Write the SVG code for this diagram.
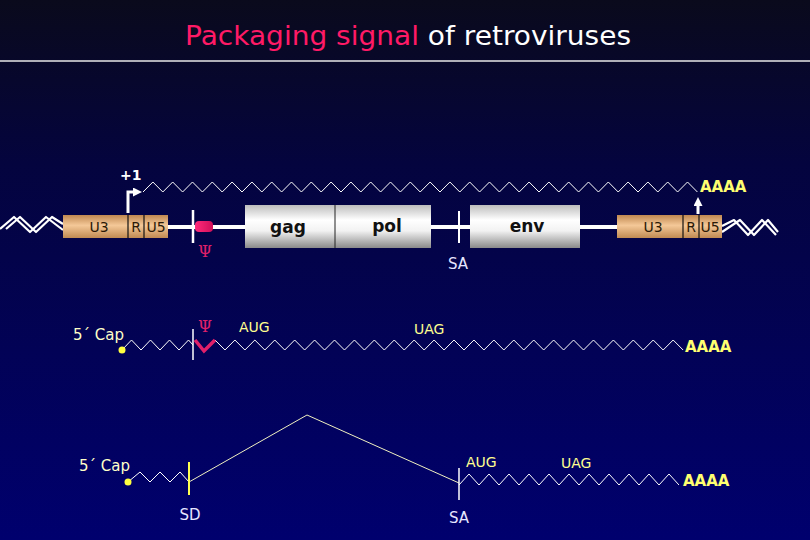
<svg xmlns="http://www.w3.org/2000/svg" width="810" height="540" viewBox="0 0 810 540">
<defs>
<linearGradient id="bg" x1="0" y1="0" x2="0" y2="1">
<stop offset="0" stop-color="#0a0a1c"/>
<stop offset="0.3" stop-color="#04043e"/>
<stop offset="1" stop-color="#00006e"/>
</linearGradient>
<linearGradient id="tan" x1="0" y1="0" x2="0" y2="1">
<stop offset="0" stop-color="#c08850"/>
<stop offset="0.45" stop-color="#f4c898"/>
<stop offset="1" stop-color="#c08a52"/>
</linearGradient>
<linearGradient id="gene" x1="0" y1="0" x2="0" y2="1">
<stop offset="0" stop-color="#bdbdbd"/>
<stop offset="0.35" stop-color="#ffffff"/>
<stop offset="0.6" stop-color="#f2f2f2"/>
<stop offset="1" stop-color="#8a8a8a"/>
</linearGradient>
<linearGradient id="pink" x1="0" y1="0" x2="1" y2="0">
<stop offset="0" stop-color="#ff2a7a"/>
<stop offset="1" stop-color="#d0105a"/>
</linearGradient>
<marker id="ah" markerWidth="9" markerHeight="9" refX="5" refY="4.5" orient="auto" markerUnits="userSpaceOnUse">
<path d="M0,0 L9,4.5 L0,9 z" fill="#ffffff"/>
</marker>
<style>
.lbl{font-family:"DejaVu Sans","Liberation Sans",sans-serif;}
.box{font-family:"DejaVu Sans","Liberation Sans",sans-serif;font-size:14px;fill:#2a1a08;text-anchor:middle;}
.gene{font-family:"DejaVu Sans","Liberation Sans",sans-serif;font-size:17px;font-weight:bold;fill:#111;text-anchor:middle;}
.yel{fill:#ffff70;font-size:15px;font-weight:bold;}
.cod{fill:#ffff90;font-size:14px;}
.cap{fill:#ffffc8;font-size:15px;}
.site{fill:#e6e6ff;font-size:15px;text-anchor:middle;}
.psi{fill:#e0206a;font-size:16px;text-anchor:middle;font-family:"DejaVu Serif",serif;}
.zz{fill:none;stroke:#ffffff;stroke-width:1;}
.dna{fill:none;stroke:#ffffff;stroke-width:4;}
.wave{fill:none;stroke:#ffffff;stroke-width:2.2;stroke-linejoin:round;}
</style>
</defs>
<rect x="0" y="0" width="810" height="540" fill="url(#bg)"/>

<g id="title">
<text x="408" y="45" text-anchor="middle" font-family="DejaVu Sans, Verdana, sans-serif" font-size="26" textLength="446" lengthAdjust="spacingAndGlyphs"><tspan fill="#ff1a66">Packaging signal</tspan><tspan fill="#ffffff"> of retroviruses</tspan></text>
<line x1="0" y1="61" x2="810" y2="61" stroke="#e8e8e8" stroke-width="1.5"/>
</g>

<g id="connectors">
<path class="dna" d="M168,227 H245 M431,227 H470 M580,227 H617"/>
<path class="wave" d="M0,229 L14,217 L30,232 L46,217 L63,230"/>
<path class="wave" d="M6,229 L20,217 L36,232 L52,217 L63,224"/>
<path class="wave" d="M722,226 L734,220 L748,235 L762,220 L776,235"/>
<path class="wave" d="M722,232 L740,220 L754,235 L768,220 L778,232"/>
<path d="M128,213 V192 H138" fill="none" stroke="#fff" stroke-width="3" marker-end="url(#ah)"/>
<path d="M698,214 V201" fill="none" stroke="#fff" stroke-width="3" marker-end="url(#ah)"/>
<path class="zz" d="M143,192 l9.9,-10 l9.9,10 l9.9,-10 l9.9,10 l9.9,-10 l9.9,10 l9.9,-10 l9.9,10 l9.9,-10 l9.9,10 l9.9,-10 l9.9,10 l9.9,-10 l9.9,10 l9.9,-10 l9.9,10 l9.9,-10 l9.9,10 l9.9,-10 l9.9,10 l9.9,-10 l9.9,10 l9.9,-10 l9.9,10 l9.9,-10 l9.9,10 l9.9,-10 l9.9,10 l9.9,-10 l9.9,10 l9.9,-10 l9.9,10 l9.9,-10 l9.9,10 l9.9,-10 l9.9,10 l9.9,-10 l9.9,10 l9.9,-10 l9.9,10 l9.9,-10 l9.9,10 l9.9,-10 l9.9,10 l9.9,-10 l9.9,10 l9.9,-10 l9.9,10 l9.9,-10 l9.9,10 l9.9,-10 l9.9,10 l9.9,-10 l9.9,10 l9.9,-10 l9.9,10"/>
<path class="zz" d="M122,350 L131.5,340 L141,350 L150.5,340 L160,350 L169.5,340 L179,350 L188.5,340 L193,345"/>
<path class="zz" d="M215,340 l9.96,10 l9.96,-10 l9.96,10 l9.96,-10 l9.96,10 l9.96,-10 l9.96,10 l9.96,-10 l9.96,10 l9.96,-10 l9.96,10 l9.96,-10 l9.96,10 l9.96,-10 l9.96,10 l9.96,-10 l9.96,10 l9.96,-10 l9.96,10 l9.96,-10 l9.96,10 l9.96,-10 l9.96,10 l9.96,-10 l9.96,10 l9.96,-10 l9.96,10 l9.96,-10 l9.96,10 l9.96,-10 l9.96,10 l9.96,-10 l9.96,10 l9.96,-10 l9.96,10 l9.96,-10 l9.96,10 l9.96,-10 l9.96,10 l9.96,-10 l9.96,10 l9.96,-10 l9.96,10 l9.96,-10 l9.96,10 l9.96,-10 l9.96,10"/>
<path class="zz" d="M128,482 L140,472 L150,482 L160,472 L170,482 L180,472 L189,482"/>
<path d="M189,482 L307,415 L459,483" fill="none" stroke="#f0f0c0" stroke-width="1"/>
<path class="zz" d="M459,485 l10,-11 l10,11 l10,-11 l10,11 l10,-11 l10,11 l10,-11 l10,11 l10,-11 l10,11 l10,-11 l10,11 l10,-11 l10,11 l10,-11 l10,11 l10,-11 l10,11 l10,-11 l10,11 l10,-11 l10,11"/>
</g>

<g id="ltr-left">
<rect x="63" y="215" width="105" height="23" fill="url(#tan)"/>
<line x1="128" y1="215" x2="128" y2="238" stroke="#111" stroke-width="1.2"/>
<line x1="144" y1="215" x2="144" y2="238" stroke="#111" stroke-width="1.2"/>
<text class="box" x="99" y="232">U3</text>
<text class="box" x="136" y="232">R</text>
<text class="box" x="156" y="232">U5</text>
<text class="lbl" x="120" y="180" fill="#ffffff" font-size="14" font-weight="bold">+1</text>
</g>

<g id="psi-site">
<line x1="193" y1="210" x2="193" y2="243" stroke="#fff" stroke-width="2.5"/>
<rect x="195" y="221" width="18" height="11" rx="4" fill="url(#pink)"/>
<text class="psi" x="205" y="257">Ψ</text>
</g>

<g id="gag">
<rect x="245" y="205" width="90" height="43" fill="url(#gene)"/>
<text class="gene" x="288" y="233">gag</text>
</g>
<g id="pol">
<rect x="335" y="205" width="96" height="43" fill="url(#gene)"/>
<line x1="335" y1="205" x2="335" y2="248" stroke="#222" stroke-width="1"/>
<text class="gene" x="387" y="232">pol</text>
</g>

<g id="sa-top">
<line x1="459" y1="211" x2="459" y2="243" stroke="#fff" stroke-width="2"/>
<text class="lbl site" x="458" y="269">SA</text>
</g>

<g id="env">
<rect x="470" y="205" width="110" height="43" fill="url(#gene)"/>
<text class="gene" x="527" y="232">env</text>
</g>

<g id="ltr-right">
<rect x="617" y="215" width="105" height="23" fill="url(#tan)"/>
<line x1="683" y1="215" x2="683" y2="238" stroke="#111" stroke-width="1.2"/>
<line x1="699" y1="215" x2="699" y2="238" stroke="#111" stroke-width="1.2"/>
<text class="box" x="653" y="232">U3</text>
<text class="box" x="691" y="232">R</text>
<text class="box" x="710" y="232">U5</text>
<text class="lbl yel" x="700" y="192">AAAA</text>
</g>

<g id="unspliced-mrna">
<text class="lbl cap" x="73" y="340">5´ Cap</text>
<circle cx="122" cy="350" r="3.5" fill="#ffff40"/>
<line x1="193" y1="329" x2="193" y2="360" stroke="#fff" stroke-width="1.5"/>
<path d="M195,340 L204,351 L215,340" fill="none" stroke="#e0206a" stroke-width="3.5"/>
<text class="psi" x="205" y="332">Ψ</text>
<text class="lbl cod" x="239" y="332">AUG</text>
<text class="lbl cod" x="414" y="334">UAG</text>
<text class="lbl yel" x="685" y="352">AAAA</text>
</g>

<g id="spliced-mrna">
<text class="lbl cap" x="79" y="471">5´ Cap</text>
<circle cx="128" cy="482" r="3.5" fill="#ffff40"/>
<line x1="189" y1="462" x2="189" y2="495" stroke="#ffff50" stroke-width="2"/>
<text class="lbl site" x="190" y="520" fill="#ffffe0">SD</text>
<line x1="459" y1="468" x2="459" y2="500" stroke="#fff" stroke-width="1.5"/>
<text class="lbl site" x="459" y="523">SA</text>
<text class="lbl cod" x="466" y="467">AUG</text>
<text class="lbl cod" x="561" y="468">UAG</text>
<text class="lbl yel" x="683" y="486">AAAA</text>
</g>
</svg>
